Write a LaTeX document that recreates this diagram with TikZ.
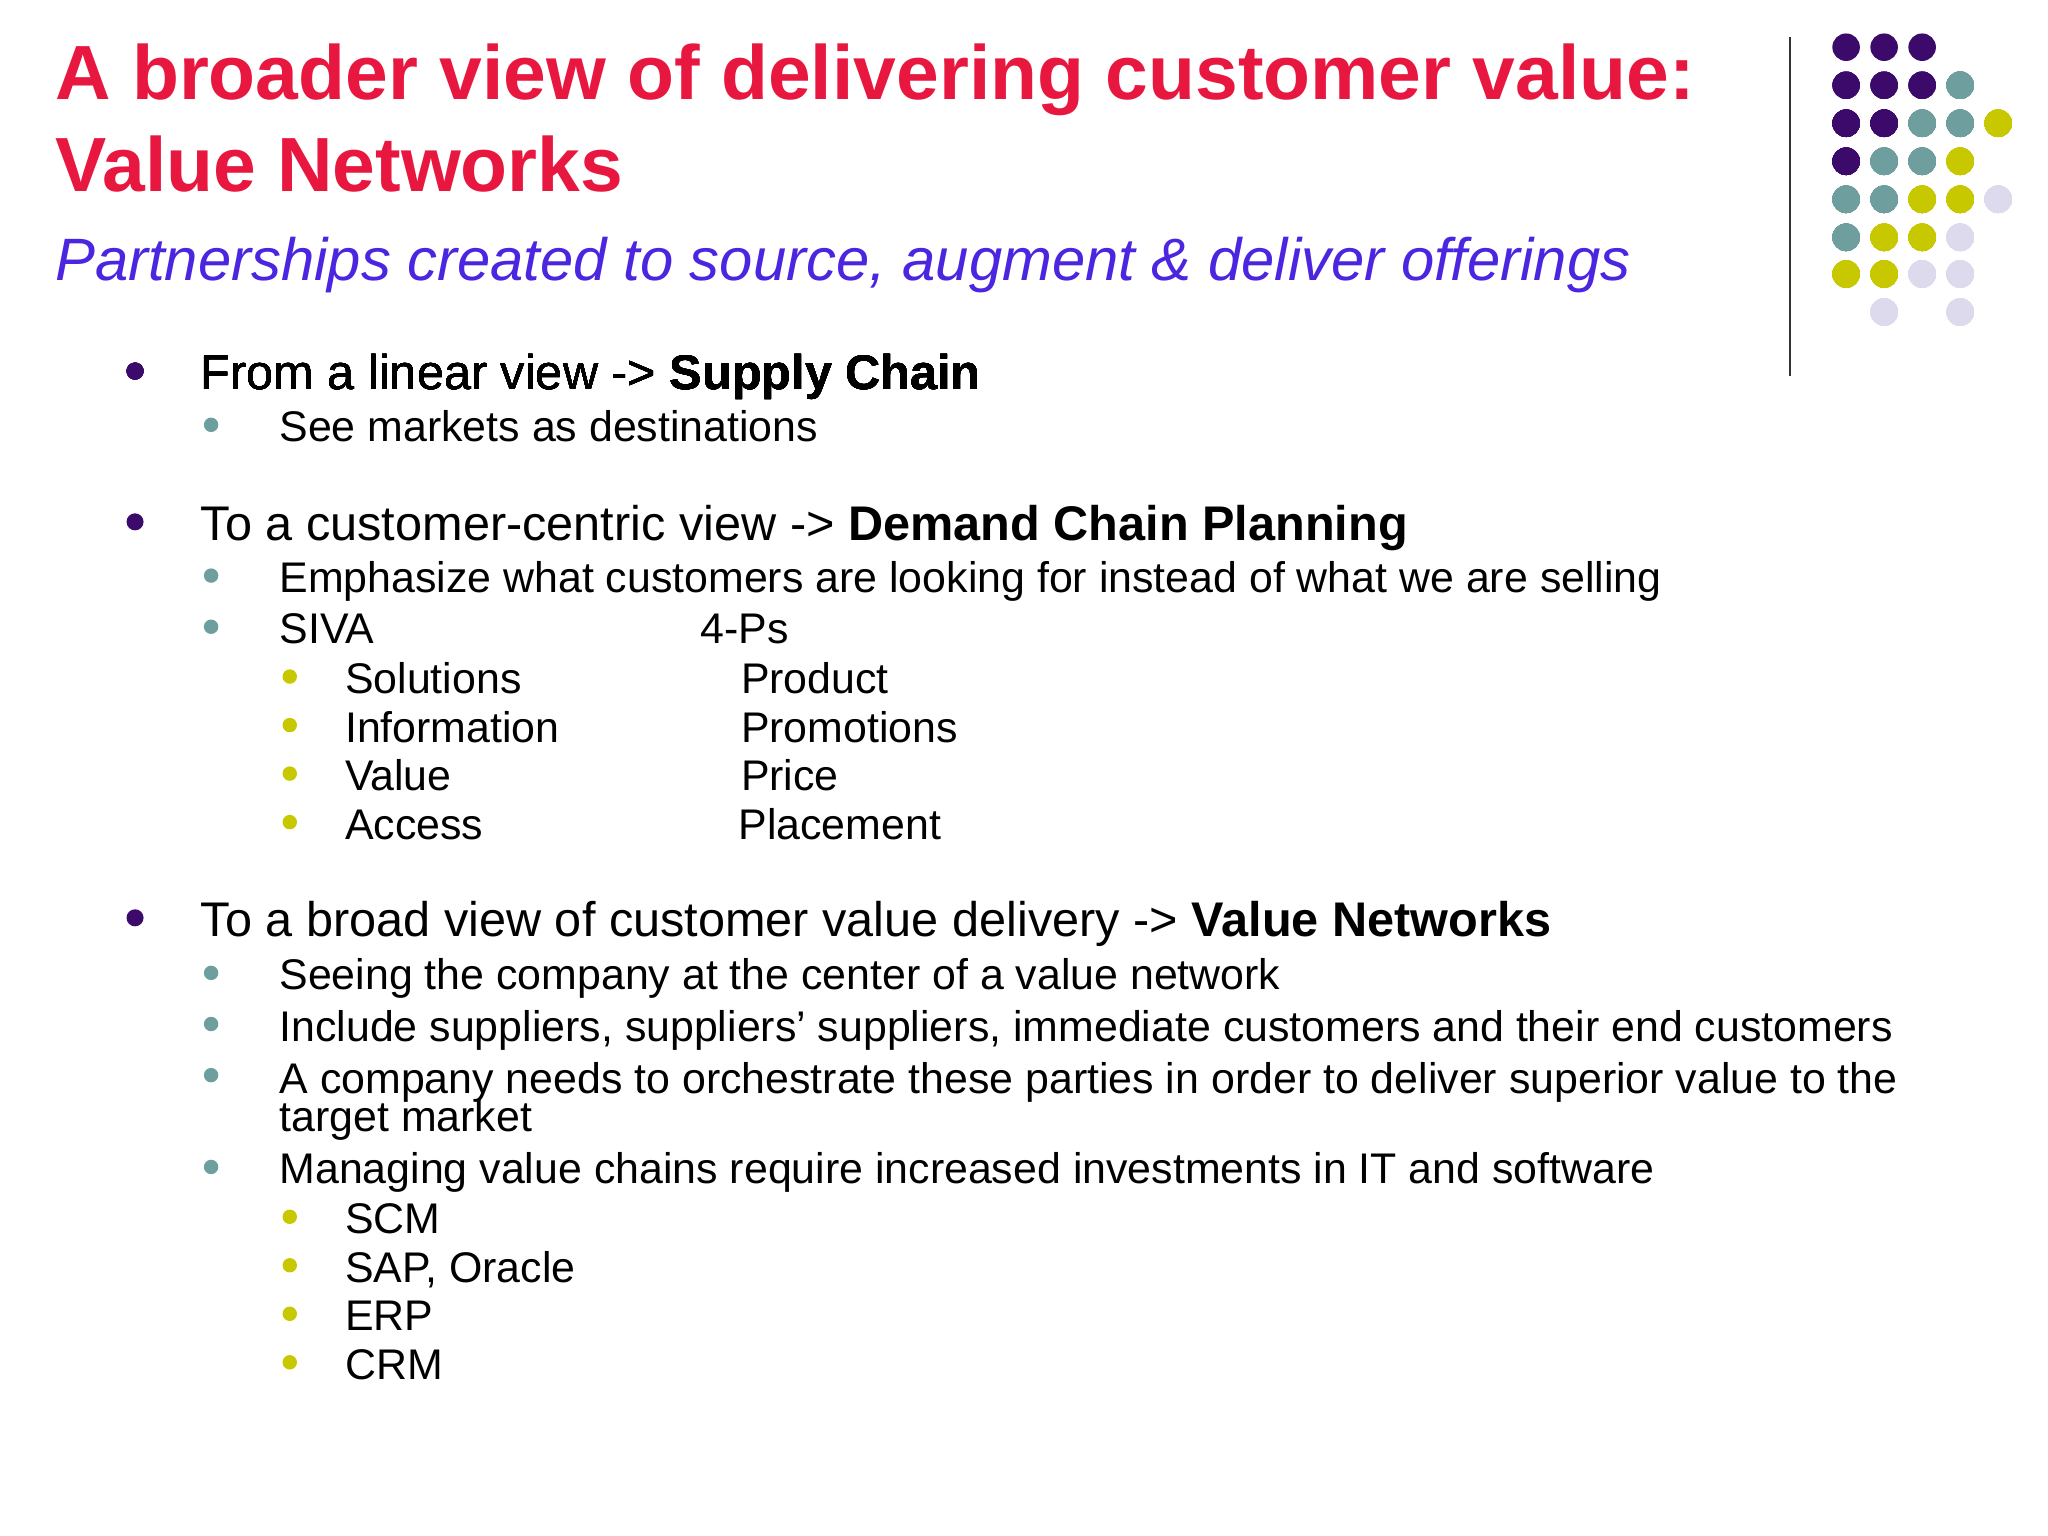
\documentclass[tikz,border=0pt]{standalone}
\usepackage{fontspec}
\setmainfont{Liberation Sans}
\definecolor{tred}{HTML}{E8173F}
\definecolor{tsub}{HTML}{4B25E0}
\definecolor{dpur}{HTML}{3B0A6B}
\definecolor{dteal}{HTML}{6E9E9E}
\definecolor{dyel}{HTML}{C8C800}
\definecolor{dlav}{HTML}{DCDAEC}
\tikzset{
  txt/.style={anchor=base west,inner sep=0pt},
  lone/.style={txt,font=\fontsize{37.1}{40}\selectfont},
  ltwo/.style={txt,font=\fontsize{32.7}{36}\selectfont},
}
\newcommand{\bul}[4]{\fill[#1] (#2,#3) circle (#4);}
\newcommand{\gd}[3]{\fill[#1] (#2,#3) circle (10.5);}
\begin{document}
\begin{tikzpicture}[x=1pt,y=-1pt]
\useasboundingbox[fill=white] (0,0) rectangle (1562,1171);
% title
\node[txt,font=\fontsize{58.6}{70}\selectfont\bfseries,text=tred] (t1) at (42,76) {A broader view of delivering customer value:};
\node[txt,font=\fontsize{58.6}{70}\selectfont\bfseries,text=tred] (t2) at (42,146) {Value Networks};
\node[txt,font=\fontsize{45.6}{50}\selectfont\itshape,text=tsub] (sub) at (42,214) {Partnerships created to source, augment \& deliver offerings};
% separator
\draw[line width=1.2pt,black!80] (1365,28) -- (1365,287);
% dot grid
\foreach \x in {1408,1437,1466} \gd{dpur}{\x}{36}
\foreach \x in {1408,1437,1466} \gd{dpur}{\x}{65}
\gd{dteal}{1495}{65}
\gd{dpur}{1408}{94}\gd{dpur}{1437}{94}\gd{dteal}{1466}{94}\gd{dteal}{1495}{94}\gd{dyel}{1524}{94}
\gd{dpur}{1408}{123}\gd{dteal}{1437}{123}\gd{dteal}{1466}{123}\gd{dyel}{1495}{123}
\gd{dteal}{1408}{152}\gd{dteal}{1437}{152}\gd{dyel}{1466}{152}\gd{dyel}{1495}{152}\gd{dlav}{1524}{152}
\gd{dteal}{1408}{181}\gd{dyel}{1437}{181}\gd{dyel}{1466}{181}\gd{dlav}{1495}{181}
\gd{dyel}{1408}{209}\gd{dyel}{1437}{209}\gd{dlav}{1466}{209}\gd{dlav}{1495}{209}
\gd{dlav}{1437}{238}\gd{dlav}{1495}{238}
% section 1
\bul{dpur}{103}{283}{6.5}
\node[lone] (a1) at (153,297) {From a linear view -> \textbf{Supply Chain}};
\bul{dteal}{161}{324}{5.5}
\node[ltwo] (a2) at (213,337) {See markets as destinations};
% section 2
\bul{dpur}{103}{398}{6.5}
\node[lone] (b1) at (153,412) {To a customer-centric view -> \textbf{Demand Chain Planning}};
\bul{dteal}{161}{439}{5.5}
\node[ltwo] (b2) at (213,452) {Emphasize what customers are looking for instead of what we are selling};
\bul{dteal}{161}{478}{5.5}
\node[ltwo] (b3) at (213,491) {SIVA};
\node[ltwo] (b4) at (534,491) {4-Ps};
\bul{dyel}{221}{516}{5.5}\node[ltwo] (c1) at (263,529) {Solutions};\node[ltwo] (d1) at (565,529) {Product};
\bul{dyel}{221}{553}{5.5}\node[ltwo] (c2) at (263,566) {Information};\node[ltwo] (d2) at (565,566) {Promotions};
\bul{dyel}{221}{590}{5.5}\node[ltwo] (c3) at (263,603) {Value};\node[ltwo] (d3) at (565,603) {Price};
\bul{dyel}{221}{627}{5.5}\node[ltwo] (c4) at (263,640) {Access};\node[ltwo] (d4) at (563,640) {Placement};
% section 3
\bul{dpur}{103}{700}{6.5}
\node[lone] (e1) at (153,714) {To a broad view of customer value delivery -> \textbf{Value Networks}};
\bul{dteal}{161}{742}{5.5}
\node[ltwo] (e2) at (213,755) {Seeing the company at the center of a value network};
\bul{dteal}{161}{781}{5.5}
\node[ltwo] (e3) at (213,794) {Include suppliers, suppliers’ suppliers, immediate customers and their end customers};
\bul{dteal}{161}{820}{5.5}
\node[ltwo] (e4) at (213,834) {A company needs to orchestrate these parties in order to deliver superior value to the};
\node[ltwo] (e5) at (213,863) {target market};
\bul{dteal}{161}{890}{5.5}
\node[ltwo] (e6) at (213,903) {Managing value chains require increased investments in IT and software};
\bul{dyel}{221}{928}{5.5}\node[ltwo] (f1) at (263,941) {SCM};
\bul{dyel}{221}{965}{5.5}\node[ltwo] (f2) at (263,978) {SAP, Oracle};
\bul{dyel}{221}{1002}{5.5}\node[ltwo] (f3) at (263,1015) {ERP};
\bul{dyel}{221}{1039}{5.5}\node[ltwo] (f4) at (263,1052) {CRM};
\end{tikzpicture}
\end{document}
